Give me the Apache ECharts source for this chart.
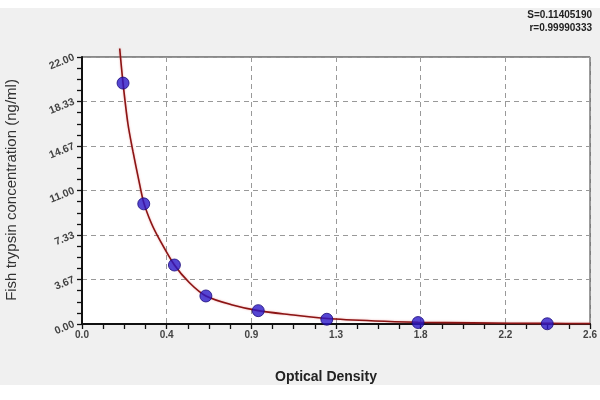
<!DOCTYPE html>
<html>
<head>
<meta charset="utf-8">
<script src="https://cdn.jsdelivr.net/npm/echarts@6/dist/echarts.min.js"></script>
<style>html,body{margin:0;padding:0;background:#fff;}#c{width:600px;height:400px;}</style>
</head>
<body>
<div id="c"></div>
<script>
// Measured standards
const odPoints = [0.210, 0.316, 0.473, 0.634, 0.902, 1.253, 1.720, 2.381];
const concPoints = [19.85, 9.90, 4.86, 2.31, 1.10, 0.39, 0.12, 0.02];
// Fitted curve
const curveOD = [0.193, 0.210, 0.235, 0.261, 0.290, 0.316, 0.355, 0.397, 0.473, 0.550, 0.634, 0.770, 0.902, 1.058, 1.253, 1.500, 1.720, 2.000, 2.381, 2.600];
const curveConc = [22.7, 19.85, 16.5, 14.2, 11.9, 10.0, 8.3, 6.95, 4.86, 3.40, 2.31, 1.57, 1.10, 0.78, 0.45, 0.25, 0.15, 0.09, 0.05, 0.04];
// Tick labels
const xTickLabels = ['0.0', '0.4', '0.9', '1.3', '1.8', '2.2', '2.6'];
const yTickLabels = ['0.00', '3.67', '7.33', '11.00', '14.67', '18.33', '22.00'];
const statS = 'S=0.11405190';
const statR = 'r=0.99990333';

const xMax = 2.6, yMax = 22;
const xInt = xMax / 6, yInt = yMax / 6;

const chart = echarts.init(document.getElementById('c'));
const font = "'Liberation Sans', Arial, sans-serif";
const narrow = "'Liberation Sans Narrow', 'Liberation Sans', sans-serif";
chart.setOption({
  animation: false,
  backgroundColor: '#ffffff',
  textStyle: { fontFamily: font },
  graphic: [
    { type: 'rect', z: -10, shape: { x: 0, y: 8, width: 600, height: 377 }, style: { fill: '#f0f0f0' }, silent: true },
    { type: 'text', x: 592, y: 10, style: { text: statS, fill: '#222', font: "bold 10px " + narrow, textAlign: 'right' } },
    { type: 'text', x: 592, y: 23, style: { text: statR, fill: '#222', font: "bold 10px " + narrow, textAlign: 'right' } },
    { type: 'text', x: 326, y: 377, style: { text: 'Optical Density', fill: '#222', font: "bold 14px " + font, textAlign: 'center', textVerticalAlign: 'middle' } },
    { type: 'text', x: 12, y: 190, rotation: Math.PI / 2, style: { text: 'Fish trypsin concentration (ng/ml)', fill: '#333', font: "15px " + font, textAlign: 'center', textVerticalAlign: 'middle' } }
  ],
  grid: { left: 82, right: 7, top: 57, bottom: 76, show: true, backgroundColor: '#ffffff', borderColor: '#222', borderWidth: 1 },
  xAxis: {
    type: 'value', min: 0, max: xMax, interval: xInt, position: 'bottom',
    axisLine: { show: true, onZero: false, lineStyle: { color: '#111', width: 2 } },
    axisTick: { show: true, inside: false, length: 5, lineStyle: { color: '#111', width: 1.3 } },
    minorTick: { show: true, splitNumber: 4, length: 5, lineStyle: { color: '#111', width: 1.3 } },
    splitLine: { show: true, lineStyle: { color: '#999', type: [5, 4], width: 1 } },
    axisLabel: {
      margin: 6, color: '#444', fontSize: 10, fontWeight: 'bold',
      formatter: v => xTickLabels[Math.round(v / xInt)] ?? ''
    }
  },
  yAxis: {
    type: 'value', min: 0, max: yMax, interval: yInt, position: 'left',
    axisLine: { show: true, onZero: false, lineStyle: { color: '#111', width: 2 } },
    axisTick: { show: true, inside: false, length: 5, lineStyle: { color: '#111', width: 1.3 } },
    minorTick: { show: true, splitNumber: 4, length: 5, lineStyle: { color: '#111', width: 1.3 } },
    splitLine: { show: true, lineStyle: { color: '#999', type: [5, 4], width: 1 } },
    axisLabel: {
      margin: 8, color: '#444', fontSize: 10.5, fontWeight: 'bold', rotate: 22,
      formatter: v => yTickLabels[Math.round(v / yInt)] ?? ''
    }
  },
  series: [
    {
      type: 'line', name: 'fit', clip: false, smooth: 0.3, showSymbol: false, z: 2,
      data: curveOD.map((x, i) => [x, curveConc[i]]),
      lineStyle: { color: '#8b1414', width: 1.6, shadowColor: 'rgba(220,80,80,0.5)', shadowBlur: 2 }
    },
    {
      type: 'scatter', name: 'standards', symbol: 'circle', symbolSize: 12, z: 3,
      data: odPoints.map((x, i) => [x, concPoints[i]]),
      itemStyle: { color: '#2a18c8', borderColor: '#1a0a7a', borderWidth: 1 }
    }
  ]
});
</script>
</body>
</html>
